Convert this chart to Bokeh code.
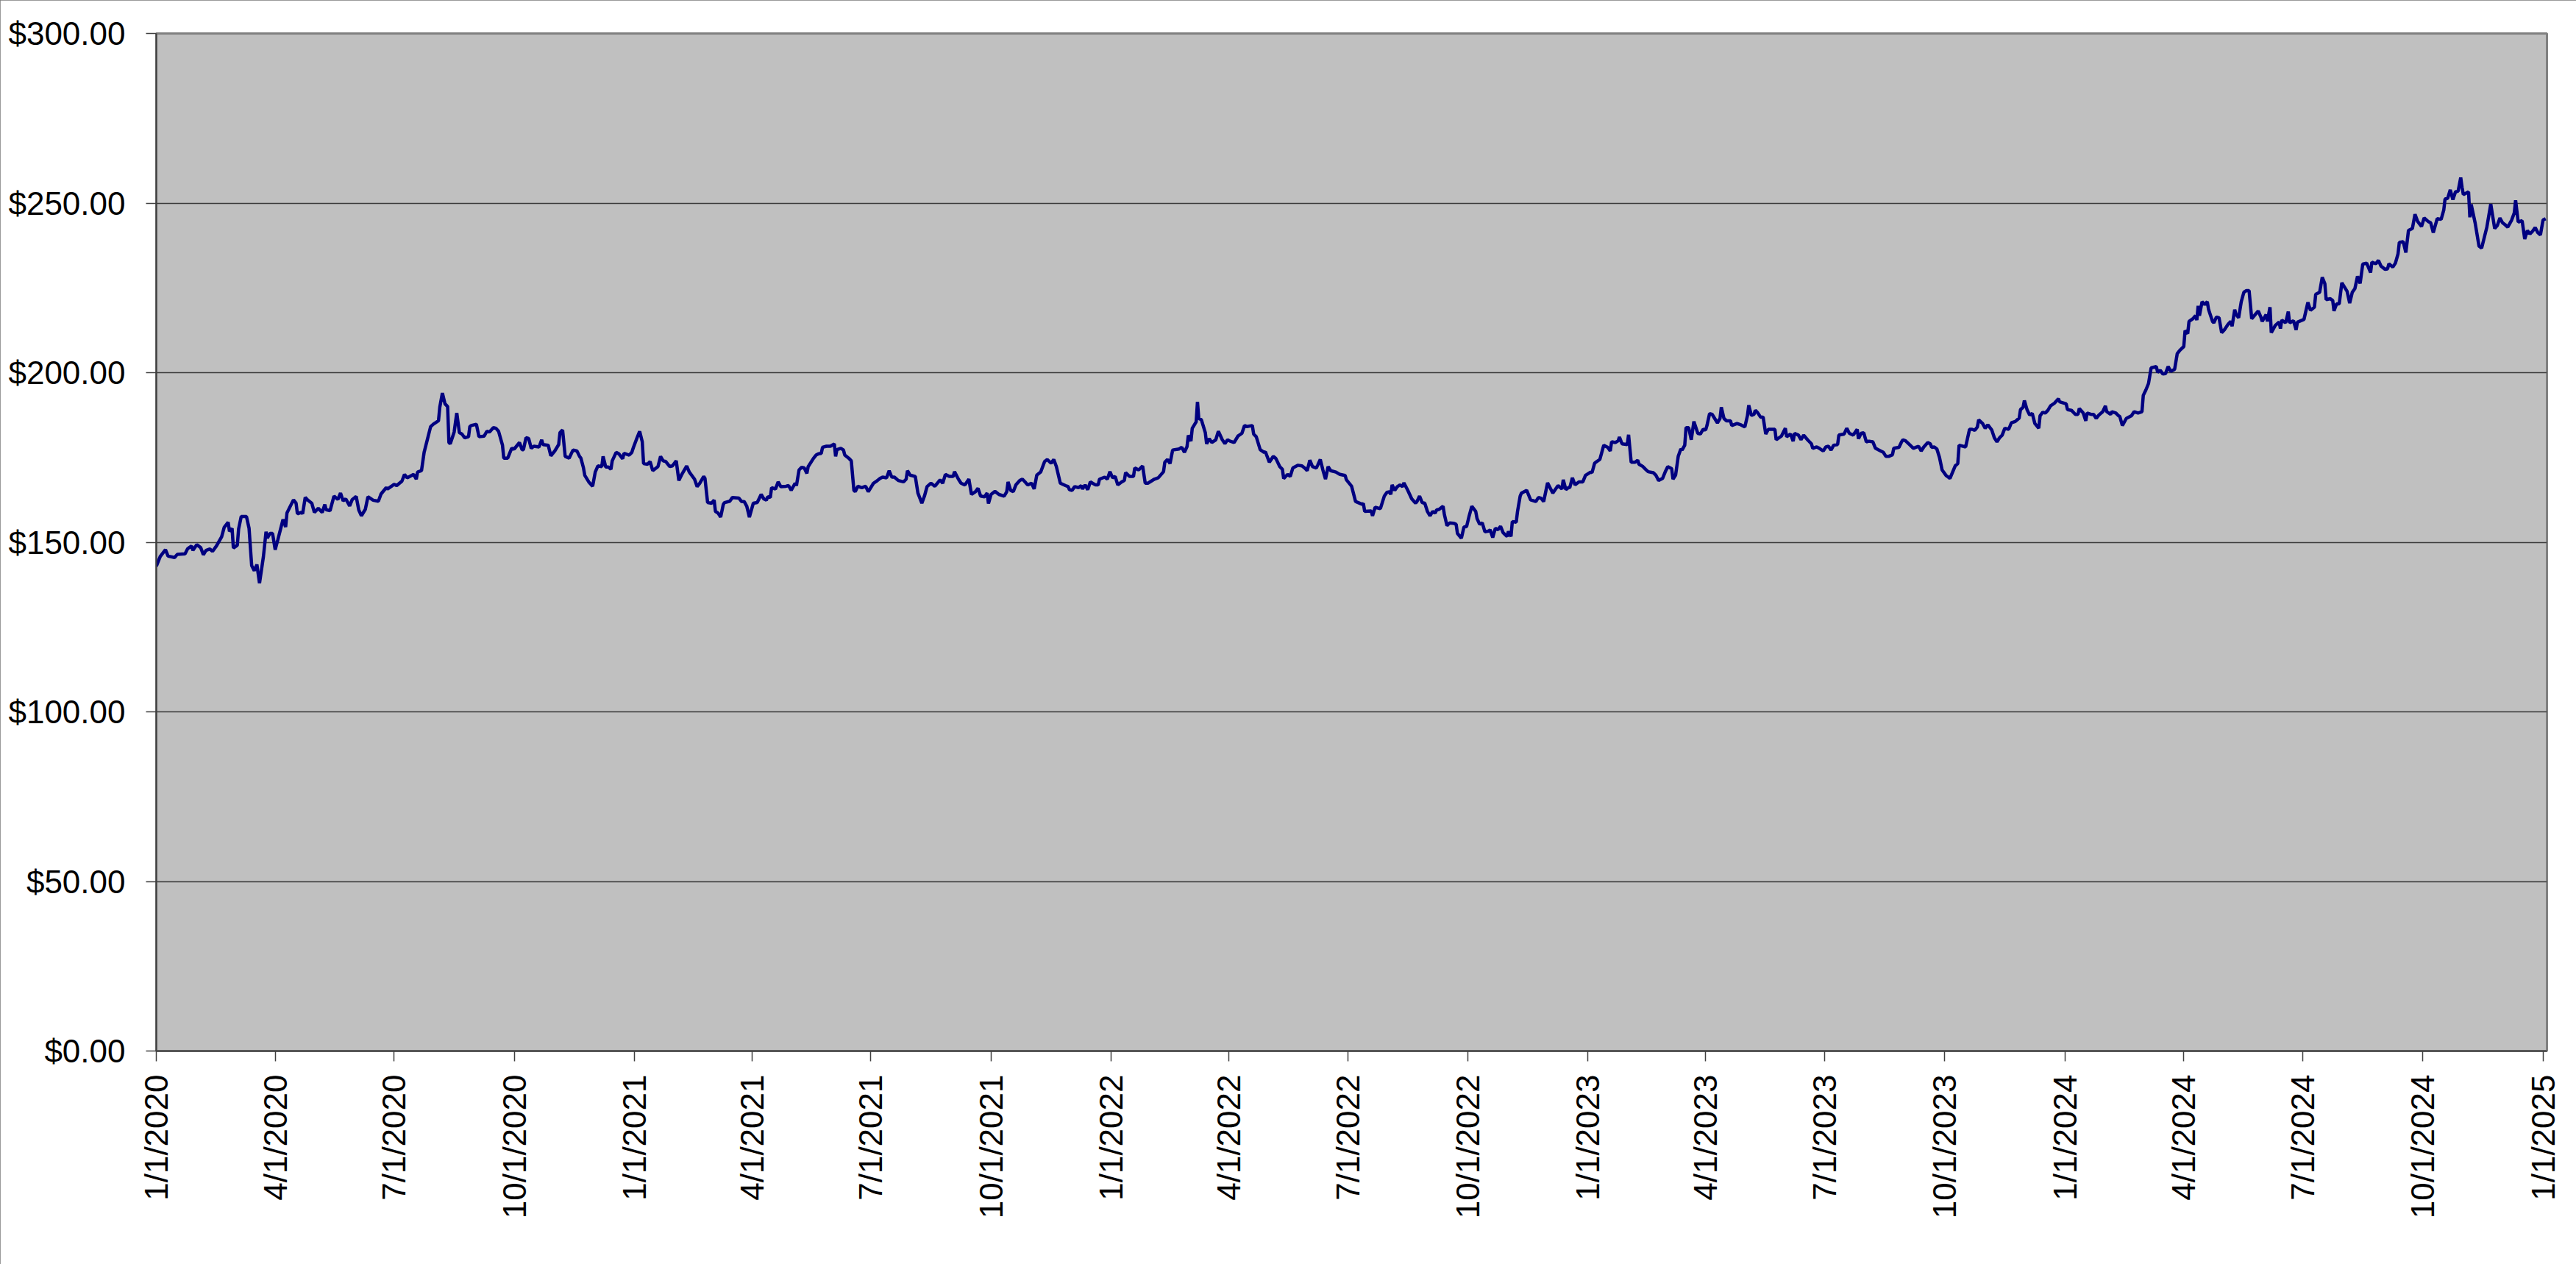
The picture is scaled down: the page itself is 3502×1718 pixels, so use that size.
import math
import pandas as pd
from bokeh.plotting import figure
from bokeh.models import ColumnDataSource, Range1d, FixedTicker, SingleIntervalTicker, NumeralTickFormatter
from bokeh.embed import file_html
from bokeh.resources import INLINE

# ---- data: day offsets from 1/1/2020 and closing prices ----
start_date = "2020-01-01"
end_date = "2025-01-04"

days_a = [0,3,7,9,14,16,22,24,27,28,31,34,36,38,41,43,46,50,52,55,56,58,59,62,63,65,69,71,73,75,77,79,82,84,85,87,89,91,93,97,99,100,105,107,108,111,112,114,116,119,121,124,127,129,130,133,136,139,141,143,145,148,150,153,155,157,160,162,166,170,172,176,177,180,182,184,188,190,192,197,199,200,203,205,210,212,216,217,219,221,223,224,225,228]
price_a = [142.9,145.8,147.8,145.9,145.5,146.4,146.6,148.1,148.9,147.6,149.3,148.4,146.3,147.6,148.0,147.3,148.9,151.6,154.4,155.9,153.2,154.1,148.3,149.1,153.9,157.6,157.6,154.1,143.1,141.6,143.4,137.9,145.8,153.1,151.2,152.6,152.6,147.8,150.7,156.7,154.5,158.6,162.5,161.5,158.4,158.8,158.4,163.2,162.4,161.5,158.8,160.0,158.8,161.1,159.6,159.3,163.6,162.6,164.5,162.2,162.8,160.7,162.6,163.5,159.5,157.8,159.7,163.4,162.4,162.1,164.2,166.1,165.7,166.5,167.1,166.7,168.0,170.0,169.0,170.0,168.6,170.7,171.1,176.5,184.1,184.8,185.8,189.8,194.0,190.8,190.0,179.4,179.0,182.5]

days_b = [230,232,234,236,239,240,241,245,247,251,253,255,258,260,262,265,266,269,272,274,278,280,281,283,285,287,289,293,295,296,300,302,305,308,309,311,313,316,319,322,324,325,327,328,331,334,336,338,341,342,344,346,348,349,352,354,357,358,362,364,365,368,370,372,373,376,378,380,384,386,388,390,393,395,398,400,402,406,408,412,414,416,419,420,422,425,427,428,430,432,434,435,439,441,446,448,450,452,454]
price_b = [188.1,182.3,181.9,180.8,181.1,184.1,184.4,184.8,181.1,181.3,182.7,182.5,183.8,183.6,182.7,178.6,174.8,174.8,177.7,177.5,179.4,177.3,177.3,180.8,180.6,177.7,178.3,178.1,180.2,178.8,178.6,175.5,176.9,178.8,182.3,183.1,175.3,174.8,177.2,176.9,175.3,174.8,171.9,169.7,167.8,166.5,170.7,172.5,172.3,175.3,172.2,172.2,171.5,174.0,176.5,176.1,174.6,176.2,175.7,176.5,177.7,180.8,182.7,179.6,173.2,173.0,173.8,171.1,172.3,175.3,174.0,173.8,172.3,172.5,174.0,168.2,169.8,172.5,170.7,168.6,166.4,167.4,169.4,168.8,161.7,161.5,162.4,159.1,158.6,157.4,161.1,161.7,162.1,163.2,163.0,162.0,162.0,160.6,157.4]

days_c = [457,460,463,465,467,468,470,471,474,476,478,482,484,486,489,490,492,494,496,498,499,503,505,507,509,510,513,516,519,520,521,524,526,527,530,532,534,535,537,540,543,545,549,551,554,556,559,561,563,565,568,572,574,575,577,581,583,586,588,590,593,596,600,602,604,607,610,611,614,616,619,622,624,627,629,631,634,636,637,639,642,645,649,651,652,654,656,658,661,663,665,667,670,672,674,677,680,682]
price_c = [161.5,161.7,164.1,162.8,162.4,163.4,163.2,166.1,165.7,167.8,166.4,166.5,166.7,165.3,167.4,166.7,171.3,172.1,171.9,170.3,172.3,174.7,175.7,176.1,176.2,178.0,178.3,178.3,179.0,175.3,177.3,177.7,177.2,175.7,174.8,174.0,165.3,164.9,166.5,166.1,166.5,164.9,167.4,167.9,168.8,169.2,169.0,171.1,169.2,169.2,168.2,167.8,168.6,171.1,169.8,169.4,164.5,161.5,163.6,166.4,167.4,166.5,168.4,167.4,170.0,169.4,169.4,170.8,168.6,167.4,166.9,168.6,164.1,164.9,165.9,163.6,163.4,164.5,161.4,164.1,165.0,164.1,163.6,164.9,167.8,165.3,164.9,166.9,168.2,168.6,167.8,166.9,167.4,165.7,169.8,170.7,173.8,174.4]

days_d = [685,687,689,692,696,698,699,701,703,706,708,709,711,713,715,719,721,722,726,728,730,732,734,736,739,741,742,745,748,749,752,755,757,759,764,767,771,772,774,776,778,783,785,787,789,790,792,793,796,797,798,800,803,804,806,808,811,813,816,818,820,822,825,828,831,833,835,839,840,842,845,848,849,852,855,857,860,862,863,866,868,870,874,877,879,881,883,885,888,889,891,893,895,897,899,903,906,910,911]
price_d = [173.3,174.4,172.3,167.4,166.7,166.4,165.5,165.3,166.4,166.1,166.7,165.7,166.9,165.5,167.8,166.9,166.9,168.6,169.2,168.6,170.8,169.0,169.4,166.9,167.8,168.2,170.5,169.4,169.4,171.9,171.3,172.5,167.4,167.4,168.6,169.0,170.8,173.6,174.4,173.2,177.2,177.5,178.0,176.5,178.2,181.5,179.8,183.6,185.5,191.4,186.5,186.1,182.3,179.0,180.5,179.4,180.2,182.7,180.2,179.1,180.2,179.8,179.4,181.3,182.1,184.4,184.1,184.4,181.9,181.1,177.3,176.5,176.7,173.6,175.3,174.7,172.3,171.5,168.8,170.0,169.4,171.9,172.7,172.5,171.9,171.1,174.2,172.3,171.9,172.7,174.4,171.3,168.6,172.3,171.1,170.7,170.0,169.7,168.4]

days_e = [915,918,920,923,924,925,930,931,933,937,940,942,944,945,946,948,950,952,954,955,958,961,964,965,967,969,971,973,975,977,979,980,982,985,986,988,990,993,995,996,999,1001,1003,1005,1007,1010,1011,1013,1015,1017,1020,1021,1023,1025,1027,1029,1031,1034,1035,1037,1038,1041,1042,1044,1045,1049,1052,1056,1058,1060,1062,1065,1069,1073,1076,1077,1079,1081,1082,1084,1086,1089,1092,1094,1098,1099,1101,1102,1105,1108,1111,1113,1114,1117,1119,1120,1122,1126,1127,1129,1132,1134,1135,1138,1140]
price_e = [166.5,162.0,161.7,161.2,161.4,159.1,159.2,157.8,160.3,159.9,163.6,164.7,164.9,164.1,166.9,165.3,166.4,166.9,166.4,167.5,165.3,162.8,161.5,162.0,163.6,161.7,161.5,159.1,157.8,159.1,158.6,159.5,159.7,160.6,158.2,154.9,155.7,155.6,155.3,152.6,151.2,154.5,154.6,157.8,160.6,159.1,157.0,155.3,155.7,153.1,153.3,153.7,151.4,154.1,153.7,154.7,152.8,151.7,153.2,151.7,156.1,155.9,159.1,163.6,164.5,165.3,162.5,162.0,163.2,163.0,162.0,167.5,164.5,166.7,165.7,168.4,165.5,166.1,166.1,169.0,166.9,167.8,167.8,169.7,170.7,170.5,173.3,173.6,174.4,178.6,178.0,176.9,179.6,179.4,179.9,181.0,179.0,178.8,181.7,173.6,173.6,174.2,173.0,172.3,171.5]

days_f = [1142,1146,1148,1150,1153,1155,1157,1160,1161,1163,1165,1167,1168,1170,1171,1173,1175,1177,1180,1182,1184,1186,1187,1189,1191,1195,1197,1198,1200,1202,1205,1206,1210,1213,1216,1218,1219,1221,1223,1224,1226,1228,1230,1232,1234,1236,1239,1240,1244,1247,1248,1251,1253,1254,1257,1259,1261,1264,1267,1268,1271,1273,1276,1278,1280,1282,1284,1287,1288,1292,1294,1296,1299,1302,1303,1305,1307,1309,1311,1314,1316,1320,1322,1324,1326,1329,1330,1334,1336,1337,1339,1342,1345,1347,1349,1351,1353,1356,1358,1359,1361,1363,1365,1367,1370]
price_f = [170.8,170.5,169.7,168.2,168.8,170.7,172.3,171.7,168.6,169.8,175.3,177.5,177.2,178.6,183.8,183.8,180.2,185.6,182.1,181.9,183.3,183.1,184.4,187.9,187.7,185.2,186.5,189.8,186.5,185.8,185.8,184.4,185.0,184.6,184.0,187.3,190.4,187.4,187.7,188.9,188.1,186.9,186.9,181.9,183.3,183.3,183.3,180.2,181.3,183.6,181.1,181.9,179.8,182.1,181.6,180.2,181.6,180.2,179.0,177.7,178.1,177.7,176.9,178.1,178.3,177.2,178.6,178.8,181.6,181.9,183.6,182.1,181.6,183.3,180.5,182.1,182.3,179.6,179.8,179.6,177.7,176.9,176.5,175.3,175.3,175.8,177.7,178.0,179.6,180.2,179.9,178.8,177.7,178.0,178.3,176.9,178.1,179.4,179.0,178.0,178.1,177.5,175.0,171.3,169.7]

days_g = [1371,1373,1377,1379,1380,1385,1388,1390,1392,1394,1395,1398,1400,1402,1405,1407,1409,1411,1413,1415,1418,1420,1423,1426,1427,1429,1430,1432,1434,1436,1438,1441,1442,1444,1446,1448,1450,1453,1456,1457,1462,1463,1466,1469,1471,1472,1475,1477,1478,1481,1483,1485,1487,1490,1492,1493,1496,1497,1500,1502,1503,1505,1508,1512,1514,1517,1520,1521,1523,1525,1527,1531,1532,1534,1536,1538,1540,1542,1545,1547,1549,1552,1553,1555,1556,1559,1561,1562,1563,1564,1566,1568,1570,1571,1574,1575,1577,1579,1581,1583,1586,1588,1589,1591,1592,1594,1596,1598]
price_g = [169.4,168.8,172.5,173.2,178.6,178.1,183.3,183.3,183.0,184.0,186.1,185.0,183.6,184.6,183.1,180.8,179.6,180.8,181.6,183.6,183.3,185.2,185.6,186.6,189.1,189.8,191.8,189.1,187.5,188.0,185.0,183.6,187.3,188.3,188.1,188.9,190.2,191.0,192.3,191.4,190.8,189.1,188.9,187.7,187.7,189.4,188.1,185.8,188.1,187.7,187.7,186.5,187.5,188.5,190.2,188.5,187.7,188.5,188.1,187.3,187.1,184.4,186.5,187.3,188.5,188.1,188.5,193.3,194.9,196.8,201.4,201.8,200.1,200.7,199.6,199.7,201.8,200.4,201.0,205.6,206.6,207.7,212.4,211.5,215.1,215.9,216.8,215.5,219.7,216.8,220.9,220.1,220.9,218.6,215.1,214.7,216.4,216.2,211.8,212.6,214.3,215.1,213.7,218.6,217.2,216.2,220.9,223.7]

days_h = [1600,1602,1604,1606,1609,1611,1612,1615,1616,1618,1619,1622,1625,1626,1627,1630,1632,1633,1636,1638,1639,1644,1647,1649,1652,1653,1656,1658,1660,1661,1664,1666,1667,1669,1671,1673,1677,1679,1681,1683,1685,1687,1689,1692,1695,1696,1699,1701,1703,1706,1708,1709,1712,1714,1716,1717,1720,1722,1724,1727,1729,1731,1734,1736,1739,1741,1743,1746,1749,1751,1752,1754,1756,1758,1760,1762,1764,1765,1766,1770,1771,1772,1775,1778,1780,1784,1787,1790,1792,1794,1796,1798,1800,1803,1805,1806,1808,1811,1812,1813,1815,1817,1819,1821,1823,1825,1827,1829]
price_h = [224.2,224.2,215.9,216.8,218.2,216.4,215.1,217.1,215.1,219.3,211.8,213.9,214.9,213.0,215.5,214.7,218.0,214.7,215.3,212.6,214.9,215.7,220.7,218.4,219.3,223.1,223.7,228.1,226.2,221.5,221.8,221.3,218.2,220.3,220.3,226.5,224.0,220.5,223.7,224.8,228.4,226.3,232.0,232.3,229.5,232.6,232.1,233.1,231.4,230.5,230.6,232.1,231.1,232.3,235.0,238.4,238.6,235.4,241.9,242.5,246.7,244.6,243.1,245.6,244.6,244.2,241.3,245.4,245.2,247.9,251.2,251.4,253.9,251.0,253.3,253.5,257.5,254.7,252.5,253.3,245.8,249.6,244.2,237.3,236.7,242.9,249.7,242.5,243.4,245.6,244.2,243.6,242.9,245.0,247.1,250.8,244.4,244.8,242.1,239.4,241.9,240.9,241.7,242.8,241.3,240.6,245.0,245.4]

x_tick_labels = ["1/1/2020", "4/1/2020", "7/1/2020", "10/1/2020",
                 "1/1/2021", "4/1/2021", "7/1/2021", "10/1/2021",
                 "1/1/2022", "4/1/2022", "7/1/2022", "10/1/2022",
                 "1/1/2023", "4/1/2023", "7/1/2023", "10/1/2023",
                 "1/1/2024", "4/1/2024", "7/1/2024", "10/1/2024",
                 "1/1/2025"]
y_min, y_max, y_step = 0, 300, 50

# ---- build ----
all_days = days_a + days_b + days_c + days_d + days_e + days_f + days_g + days_h
all_prices = price_a + price_b + price_c + price_d + price_e + price_f + price_g + price_h
dates = pd.Timestamp(start_date) + pd.to_timedelta(all_days, unit="D")
src = ColumnDataSource(data=dict(date=dates, price=all_prices))

FONT = "Liberation Sans"

p = figure(width=3502, height=1718, x_axis_type="datetime",
           output_backend="svg", toolbar_location=None,
           x_range=Range1d(pd.Timestamp(start_date), pd.Timestamp(end_date)),
           y_range=Range1d(y_min, y_max),
           background_fill_color="#C0C0C0", border_fill_color="white",
           min_border_left=212, min_border_right=40,
           min_border_top=45, min_border_bottom=290)
p.styles = {"outline": "2px solid #7a7a7a", "outline-offset": "-2px"}

p.line(x="date", y="price", source=src, line_color="#000080", line_width=4.5)

# x axis: quarterly ticks with m/d/yyyy labels
tick_ts = [pd.to_datetime(t, format="%m/%d/%Y") for t in x_tick_labels]
tick_ms = [int(t.value // 10**6) for t in tick_ts]
xa = p.xaxis[0]
xa.ticker = FixedTicker(ticks=tick_ms)
xa.major_label_overrides = {ms: lab for ms, lab in zip(tick_ms, x_tick_labels)}
xa.major_label_orientation = math.pi / 2
xa.major_label_standoff = 18

ya = p.yaxis[0]
ya.ticker = SingleIntervalTicker(interval=y_step, num_minor_ticks=0)
ya.formatter = NumeralTickFormatter(format="$0,0.00")
ya.major_label_standoff = 28

for ax in (xa, ya):
    ax.major_label_text_font = FONT
    ax.major_label_text_font_size = "44px"
    ax.major_label_text_color = "black"
    ax.axis_line_color = "#404040"
    ax.axis_line_width = 2
    ax.major_tick_line_color = "#404040"
    ax.major_tick_line_width = 1.5
    ax.major_tick_out = 14
    ax.major_tick_in = 0
    ax.minor_tick_line_color = None

p.xgrid.visible = False
p.ygrid.grid_line_color = "#3a3a3a"
p.ygrid.grid_line_width = 1.3
p.outline_line_color = "#808080"
p.outline_line_width = 3

open("out.html", "w").write(file_html(p, INLINE))
